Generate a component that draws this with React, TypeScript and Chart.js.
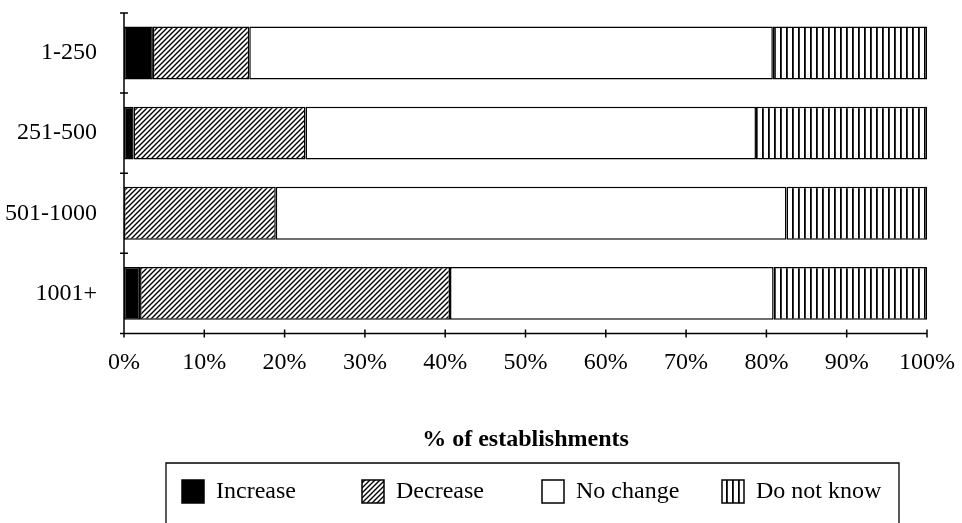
import React, { useEffect, useRef } from "react";
import { Chart, registerables } from "chart.js";

Chart.register(...registerables);

const categories = ["1-250", "251-500", "501-1000", "1001+"];
const seriesNames = ["Increase", "Decrease", "No change", "Do not know"];
const increase = [3.6, 1.2, 0, 2.0];
const decrease = [12.0, 21.4, 18.9, 38.6];
const noChange = [65.2, 56.1, 63.6, 40.3];
const doNotKnow = [19.2, 21.3, 17.5, 19.1];
const xTickValues = [0, 10, 20, 30, 40, 50, 60, 70, 80, 90, 100];
const xTitle = "% of establishments";

const FONT = "'Liberation Serif', 'Times New Roman', serif";

function makeHatch(): CanvasPattern | string {
  const s = 5;
  const c = document.createElement("canvas");
  c.width = s;
  c.height = s;
  const g = c.getContext("2d");
  if (!g) return "#888";
  g.fillStyle = "#fff";
  g.fillRect(0, 0, s, s);
  g.strokeStyle = "#000";
  g.lineWidth = 1.4;
  g.beginPath();
  g.moveTo(-1, s + 1);
  g.lineTo(s + 1, -1);
  g.moveTo(-1, 1);
  g.lineTo(1, -1);
  g.moveTo(s - 1, s + 1);
  g.lineTo(s + 1, s - 1);
  g.stroke();
  return g.createPattern(c, "repeat") || "#888";
}

function makeVertical(): CanvasPattern | string {
  const s = 6;
  const c = document.createElement("canvas");
  c.width = s;
  c.height = s;
  const g = c.getContext("2d");
  if (!g) return "#888";
  g.fillStyle = "#fff";
  g.fillRect(0, 0, s, s);
  g.fillStyle = "#000";
  g.fillRect(0, 0, 1.8, s);
  return g.createPattern(c, "repeat") || "#888";
}

export default function App() {
  const ref = useRef<HTMLCanvasElement | null>(null);

  useEffect(() => {
    if (!ref.current) return;
    const hatch = makeHatch();
    const vert = makeVertical();
    const fills: any[] = ["#000", hatch, "#fff", vert];
    const values = [increase, decrease, noChange, doNotKnow];

    const overlay = {
      id: "overlay",
      afterDraw(chart: any) {
        const { ctx, chartArea, scales } = chart;
        const { left, right, top, bottom } = chartArea;
        const x = scales.x;
        const y = scales.y;
        ctx.save();
        ctx.strokeStyle = "#000";
        ctx.lineWidth = 1.5;
        ctx.beginPath();
        ctx.moveTo(left, top);
        ctx.lineTo(left, bottom);
        ctx.lineTo(right, bottom);
        for (let i = 0; i <= categories.length; i++) {
          const py = y.getPixelForValue(i - 0.5);
          ctx.moveTo(left - 4, py);
          ctx.lineTo(left + 4, py);
        }
        for (const t of x.ticks) {
          const px = x.getPixelForValue(t.value);
          ctx.moveTo(px, bottom - 4);
          ctx.lineTo(px, bottom + 4);
        }
        ctx.stroke();

        // legend box
        const bl = 166;
        const br = 899;
        const bt = 463;
        const bb = chart.height + 5;
        ctx.lineWidth = 1.3;
        ctx.beginPath();
        ctx.moveTo(bl, bb);
        ctx.lineTo(bl, bt);
        ctx.lineTo(br, bt);
        ctx.lineTo(br, bb);
        ctx.stroke();

        ctx.font = `24px ${FONT}`;
        ctx.textBaseline = "middle";
        ctx.textAlign = "left";
        chart.data.datasets.forEach((ds: any, i: number) => {
          const sx = 182 + i * 180;
          const sy = 480;
          ctx.fillStyle = ds.backgroundColor;
          ctx.fillRect(sx, sy, 22, 23);
          ctx.lineWidth = 1.5;
          ctx.strokeRect(sx, sy, 22, 23);
          ctx.fillStyle = "#000";
          ctx.fillText(ds.label, sx + 34, sy + 12);
        });
        ctx.restore();
      },
    };

    const chart = new Chart(ref.current, {
      type: "bar",
      data: {
        labels: categories,
        datasets: seriesNames.map((name, i) => ({
          label: name,
          data: values[i],
          backgroundColor: fills[i],
          borderColor: "#000",
          borderWidth: 1.5,
          borderSkipped: false,
          barPercentage: 0.66,
          categoryPercentage: 1,
        })),
      },
      options: {
        indexAxis: "y",
        animation: false,
        responsive: false,
        maintainAspectRatio: false,
        layout: { padding: { top: 13, right: 35, bottom: 69, left: 0 } },
        plugins: {
          legend: { display: false },
          tooltip: { enabled: false },
          title: { display: false },
        },
        scales: {
          x: {
            stacked: true,
            min: 0,
            max: 100,
            afterBuildTicks: (scale: any) => {
              scale.ticks = xTickValues.map((v) => ({ value: v }));
            },
            afterFit: (scale: any) => {
              scale.paddingLeft = 0;
              scale.paddingRight = 0;
            },
            grid: { display: false },
            border: { display: false },
            ticks: {
              padding: 7,
              color: "#000",
              font: { family: FONT, size: 24 },
              callback: (v: any) => `${v}%`,
              maxRotation: 0,
            },
            title: {
              display: true,
              text: xTitle,
              color: "#000",
              font: { family: FONT, size: 24, weight: "bold" },
              padding: { top: 41, bottom: 0 },
            },
          },
          y: {
            stacked: true,
            grid: { display: false },
            border: { display: false },
            afterFit: (scale: any) => {
              scale.width = 124;
              scale.paddingTop = 0;
              scale.paddingBottom = 0;
            },
            ticks: {
              padding: 19,
              color: "#000",
              font: { family: FONT, size: 24 },
            },
          },
        },
      },
      plugins: [overlay],
    } as any);

    return () => chart.destroy();
  }, []);

  return (
    <div style={{ position: "fixed", left: 0, top: 0, width: 962, height: 523, background: "#fff" }}>
      <canvas ref={ref} width={962} height={523} style={{ width: 962, height: 523, display: "block" }} />
    </div>
  );
}
